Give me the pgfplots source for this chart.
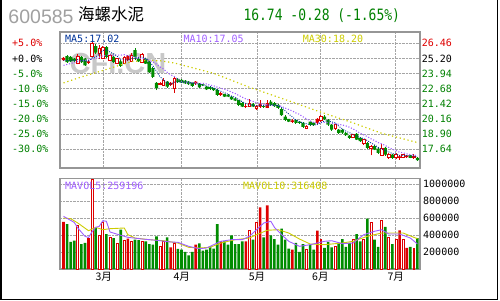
\documentclass[border=0pt]{standalone}
\usepackage{fontspec}
\usepackage{pgfplots}
\usepackage{pgfplotstable}
\pgfplotsset{compat=1.18}
\setmainfont{DejaVu Sans Mono}
\newfontfamily\mono{DejaVu Sans Mono}
\newfontfamily\cjk{Noto Sans CJK SC}
\newfontfamily\arial{Liberation Sans}
\definecolor{cred}{RGB}{221,0,0}
\definecolor{cgreen}{RGB}{0,140,0}
\definecolor{txtgreen}{RGB}{0,128,0}
\definecolor{gridc}{RGB}{165,165,165}
\definecolor{framec}{RGB}{150,150,150}
\definecolor{ma5c}{RGB}{0,51,153}
\definecolor{ma10c}{RGB}{160,95,255}
\definecolor{ma30c}{RGB}{204,204,0}
\definecolor{wmc}{RGB}{200,200,200}
\definecolor{codec}{RGB}{160,160,160}

% green (down) days: i open high low close volume
\pgfplotstableread{
i o h l c v
1 25.40 25.49 24.82 24.90 531000
2 25.32 25.40 24.90 24.96 319000
3 25.18 25.24 24.90 25.01 334000
5 25.32 25.40 24.82 24.90 295000
6 25.18 25.24 24.57 24.63 307000
9 26.23 26.40 25.57 25.68 484000
12 26.15 26.23 25.24 25.32 413000
14 25.32 25.40 24.82 24.90 366000
16 24.96 25.07 24.49 24.57 464000
20 25.90 26.07 25.11 25.32 346000
21 25.18 25.24 24.90 24.96 340000
23 25.18 25.24 24.74 24.76 327000
24 24.90 24.99 23.99 24.07 295000
25 24.40 24.49 23.57 23.66 287000
26 23.16 23.24 22.57 22.74 386000
29 23.26 23.36 22.78 22.85 374000
32 23.49 23.57 23.16 23.24 238000
33 23.41 23.49 23.12 23.18 228000
34 23.35 23.41 23.07 23.13 201000
35 23.26 23.32 22.99 23.07 162000
36 23.21 23.24 22.82 22.91 201000
38 23.13 23.16 22.74 22.80 303000
39 23.03 23.07 22.87 22.95 216000
40 22.85 22.91 22.57 22.63 228000
41 22.82 22.87 22.57 22.66 268000
42 22.74 22.78 22.49 22.57 240000
43 22.57 22.62 22.08 22.16 531000
45 22.24 22.28 21.95 22.02 327000
46 22.16 22.20 21.95 22.02 287000
47 22.02 22.08 21.74 21.80 398000
48 21.88 21.91 21.62 21.68 295000
49 21.74 21.78 21.24 21.33 295000
50 21.49 21.58 21.12 21.18 327000
53 21.41 21.45 21.12 21.18 346000
56 21.24 21.33 21.08 21.16 374000
58 21.60 21.74 21.24 21.33 398000
59 21.49 21.58 21.16 21.24 354000
60 21.33 21.41 20.99 21.08 287000
61 20.99 21.08 20.41 20.49 476000
62 20.35 20.45 19.99 20.08 346000
63 20.16 20.20 19.87 19.94 240000
65 20.08 20.12 19.75 19.83 307000
66 19.94 19.99 19.75 19.83 201000
67 19.83 19.87 19.41 19.50 295000
69 19.94 19.99 19.58 19.66 287000
70 19.85 19.91 19.58 19.66 228000
73 20.35 20.45 20.08 20.14 248000
74 20.08 20.16 19.58 19.69 319000
75 19.69 19.75 19.20 19.27 256000
77 19.27 19.33 18.91 19.00 307000
78 19.25 19.30 18.95 19.02 354000
79 19.00 19.04 18.75 18.81 260000
80 18.77 18.83 18.50 18.58 307000
82 18.91 19.00 18.37 18.44 413000
83 18.58 18.62 18.25 18.31 327000
85 18.16 18.25 17.67 17.75 594000
87 17.91 18.00 17.54 17.61 346000
88 17.69 17.75 17.25 17.33 260000
90 17.75 17.79 17.12 17.19 496000
92 17.19 17.25 16.83 16.92 295000
97 17.14 17.17 16.88 16.92 260000
99 16.92 16.96 16.67 16.74 366000
}\gtab

% red hollow (up) days
\pgfplotstableread{
i o h l c v
4 24.76 25.59 24.70 25.40 516000
8 25.40 26.57 25.32 26.43 1060000
10 25.65 26.32 25.18 26.07 398000
11 25.21 26.23 25.15 26.15 555000
13 25.05 25.57 24.99 25.46 374000
15 24.76 25.24 24.70 25.18 307000
17 24.76 25.40 24.70 25.32 334000
19 24.96 25.65 24.90 25.46 327000
22 24.90 25.65 24.86 25.51 327000
27 23.03 23.24 22.95 23.16 268000
28 22.99 23.55 22.91 23.41 323000
31 22.74 23.66 22.35 23.57 305000
52 21.24 21.83 21.16 21.45 457000
54 21.08 21.33 20.91 21.24 555000
68 19.41 19.66 19.29 19.58 228000
72 20.02 20.45 19.95 20.35 354000
76 19.41 19.83 19.25 19.69 268000
81 18.64 18.91 18.58 18.86 354000
84 18.16 18.50 18.00 18.44 354000
86 17.69 18.02 17.14 17.89 555000
89 17.14 18.08 17.08 17.69 575000
91 16.92 17.29 16.83 17.25 378000
93 16.92 17.33 16.83 17.25 354000
95 16.92 17.25 16.88 17.19 346000
98 16.92 17.21 16.83 17.08 240000
}\rtab

% red filled days
\pgfplotstableread{
i o h l c v
0 25.05 25.32 24.99 25.24 555000
7 24.82 25.07 24.74 24.96 366000
18 25.05 25.49 24.99 25.40 358000
30 22.99 23.24 22.91 23.16 254000
37 23.13 23.36 23.03 23.26 287000
44 22.16 22.41 22.08 22.32 327000
51 21.16 21.41 21.04 21.24 327000
55 21.16 21.74 21.08 21.41 728000
57 21.08 21.74 21.04 21.49 752000
64 19.91 20.12 19.83 20.04 228000
71 19.83 20.24 19.75 20.16 452000
94 16.92 17.17 16.75 17.04 457000
96 16.98 17.17 16.92 17.14 248000
}\ftab

% moving averages of price
\pgfplotstableread{
i m5 m10
0 25.05 24.62
1 25.02 24.70
2 25.00 24.78
3 25.02 24.86
4 25.10 24.94
5 25.03 25.00
6 24.98 25.04
7 24.98 25.08
8 25.26 25.14
9 25.32 25.21
10 25.55 25.29
11 25.86 25.42
12 25.93 25.46
13 25.74 25.50
14 25.58 25.45
15 25.40 25.48
16 25.09 25.47
17 25.09 25.51
18 25.07 25.41
19 25.19 25.38
20 25.21 25.31
21 25.29 25.19
22 25.33 25.21
23 25.20 25.14
24 24.92 25.06
25 24.59 24.90
26 24.15 24.72
27 23.68 24.50
28 23.41 24.31
29 23.16 24.04
30 23.06 23.83
31 23.23 23.69
32 23.25 23.46
33 23.20 23.30
34 23.26 23.21
35 23.24 23.15
36 23.11 23.17
37 23.11 23.18
38 23.03 23.12
39 23.00 23.13
40 22.91 23.07
41 22.86 22.98
42 22.72 22.92
43 22.59 22.81
44 22.47 22.73
45 22.35 22.63
46 22.22 22.54
47 22.06 22.39
48 21.97 22.28
49 21.77 22.12
50 21.60 21.97
51 21.45 21.83
52 21.38 21.72
53 21.28 21.62
54 21.26 21.51
55 21.30 21.45
56 21.29 21.37
57 21.30 21.34
58 21.33 21.30
59 21.33 21.29
60 21.26 21.28
61 21.13 21.21
62 20.84 21.07
63 20.57 20.95
64 20.33 20.83
65 20.08 20.67
66 19.94 20.54
67 19.83 20.34
68 19.76 20.16
69 19.68 20.00
70 19.65 19.86
71 19.71 19.83
72 19.88 19.86
73 19.99 19.88
74 20.00 19.84
75 19.92 19.78
76 19.83 19.77
77 19.56 19.72
78 19.33 19.66
79 19.15 19.58
80 19.02 19.47
81 18.85 19.34
82 18.74 19.15
83 18.60 18.97
84 18.53 18.84
85 18.36 18.69
86 18.17 18.51
87 18.00 18.37
88 17.80 18.20
89 17.65 18.09
90 17.54 17.95
91 17.41 17.79
92 17.28 17.64
93 17.26 17.53
94 17.13 17.39
95 17.13 17.34
96 17.11 17.26
97 17.11 17.19
98 17.07 17.17
99 17.01 17.07
}\matab

\pgfplotsset{
  pp/.style={at={(60pt,132pt)}, anchor=south west, scale only axis,
    width=360pt, height=136pt, xmin=-0.98, xmax=99.72, ymin=16.08, ymax=27.40},
  vp/.style={at={(60pt,31pt)}, anchor=south west, scale only axis,
    width=360pt, height=90.7pt, xmin=-0.98, xmax=99.72, ymin=0, ymax=1070800},
  monthticks/.style={xtick={11.24,33.06,54.13,71.85,92.94}},
}

\begin{document}
\begin{tikzpicture}[x=1pt,y=1pt]
\path[use as bounding box] (0,0) rectangle (500,300);

% header
\node[anchor=base west, inner sep=0pt, text=codec, font=\arial\fontsize{19.5}{20}\selectfont] at (8.3,276.7) {600585};
\node[anchor=base west, inner sep=0pt, font=\cjk\fontsize{16.5}{18}\selectfont] at (78,279) {海螺水泥};
\node[anchor=base west, inner sep=0pt, text=txtgreen, font=\mono\fontsize{13}{14}\selectfont] at (243.3,279.3) {\scalebox{1}[1.2]{16.74 -0.28 (-1.65\%)}};

% price panel: frame, grid, left labels
\begin{axis}[pp, monthticks, xticklabels={},
  axis line style={framec, line width=1.2pt},
  ytick={17.64,18.90,20.16,21.42,22.68,23.94,25.20,26.46},
  yticklabels={\textcolor{txtgreen}{-30.0\%},\textcolor{txtgreen}{-25.0\%},\textcolor{txtgreen}{-20.0\%},\textcolor{txtgreen}{-15.0\%},\textcolor{txtgreen}{-10.0\%},\textcolor{txtgreen}{-5.0\%},\textcolor{black}{+0.0\%},\textcolor{cred}{+5.0\%}},
  yticklabel style={font=\mono\fontsize{10}{12}\selectfont, anchor=west, inner sep=0pt, xshift=-48pt},
  grid=major, major grid style={gridc, densely dotted, line width=0.8pt},
  major tick length=0pt]
\end{axis}

% watermark
\node[text=wmc, inner sep=0pt, font=\arial\bfseries\fontsize{29}{30}\selectfont] at (118,236) {CFI.CN};

% wicks
\begin{axis}[pp, hide axis]
\addplot[draw=none, mark=none, error bars/.cd, y dir=plus, y explicit, error mark=none,
  error bar style={solid, draw=cgreen, line width=0.9pt}]
  table[x=i, y=l, y error expr=\thisrow{h}-\thisrow{l}] {\gtab};
\addplot[draw=none, mark=none, error bars/.cd, y dir=plus, y explicit, error mark=none,
  error bar style={solid, draw=cred, line width=0.9pt}]
  table[x=i, y=l, y error expr=\thisrow{h}-\thisrow{l}] {\rtab};
\addplot[draw=none, mark=none, error bars/.cd, y dir=plus, y explicit, error mark=none,
  error bar style={solid, draw=cred, line width=0.9pt}]
  table[x=i, y=l, y error expr=\thisrow{h}-\thisrow{l}] {\ftab};
\end{axis}

% green bodies
\begin{axis}[pp, hide axis, ybar stacked, bar width=3.2pt]
\addplot[draw=none, fill=none] table[x=i, y=c] {\gtab};
\addplot[draw=none, fill=cgreen] table[x=i, y expr=\thisrow{o}-\thisrow{c}] {\gtab};
\end{axis}
% red hollow bodies
\begin{axis}[pp, hide axis, ybar stacked, bar width=2.5pt]
\addplot[draw=none, fill=none] table[x=i, y=o] {\rtab};
\addplot[draw=cred, fill=white, line width=0.85pt] table[x=i, y expr=\thisrow{c}-\thisrow{o}] {\rtab};
\end{axis}
% red filled bodies
\begin{axis}[pp, hide axis, ybar stacked, bar width=3.2pt]
\addplot[draw=none, fill=none] table[x=i, y=o] {\ftab};
\addplot[draw=none, fill=cred] table[x=i, y expr=\thisrow{c}-\thisrow{o}] {\ftab};
\end{axis}

% moving averages
\begin{axis}[pp, hide axis]
\addplot[ma30c, line width=1.2pt, dash pattern=on 1.2pt off 2.8pt] coordinates {
(0,23.16) (5,23.66) (10,24.10) (15,24.57) (19,24.93) (23,25.03) (27,25.01) (31,24.82)
(35,24.51) (42,23.96) (52,22.80) (61,21.88) (71,20.83) (80,19.94) (89,18.97) (99,18.20)};
\addplot[ma10c, line width=1.1pt, dash pattern=on 1.1pt off 1.7pt] table[x=i, y=m10] {\matab};
\addplot[ma5c, line width=0.9pt, dash pattern=on 0.9pt off 1.4pt] table[x=i, y=m5] {\matab};
\end{axis}

% right price labels
\begin{axis}[pp, axis line style={draw=none}, xtick=\empty, major tick length=0pt,
  yticklabel pos=right,
  ytick={17.64,18.90,20.16,21.42,22.68,23.94,25.20,26.46},
  yticklabels={\textcolor{txtgreen}{17.64},\textcolor{txtgreen}{18.90},\textcolor{txtgreen}{20.16},\textcolor{txtgreen}{21.42},\textcolor{txtgreen}{22.68},\textcolor{txtgreen}{23.94},\textcolor{black}{25.20},\textcolor{cred}{26.46}},
  yticklabel style={font=\mono\fontsize{10}{12}\selectfont, anchor=west, inner sep=0pt, xshift=1.7pt}]
\end{axis}

% MA legend texts
\node[anchor=base west, inner sep=0pt, text=ma5c, font=\mono\fontsize{10}{12}\selectfont] at (65,257.4) {MA5:17.02};
\node[anchor=base west, inner sep=0pt, text=ma10c, font=\mono\fontsize{10}{12}\selectfont] at (183.3,257.4) {MA10:17.05};
\node[anchor=base west, inner sep=0pt, text=ma30c, font=\mono\fontsize{10}{12}\selectfont] at (302.7,257.4) {MA30:18.20};

% volume panel
\begin{axis}[vp, monthticks, xticklabels={3月,4月,5月,6月,7月},
  xticklabel style={font=\cjk\fontsize{10.5}{12}\selectfont},
  axis line style={framec, line width=1.2pt},
  ytick={200000,400000,600000,800000,1000000},
  yticklabels={200000,400000,600000,800000,1000000},
  scaled y ticks=false, yticklabel pos=right,
  yticklabel style={font=\mono\fontsize{10}{12}\selectfont, anchor=west, inner sep=0pt, xshift=3pt},
  grid=major, major grid style={gridc, densely dotted, line width=0.8pt},
  major tick length=0pt, ybar, bar shift=0pt]
\addplot[draw=none, fill=cgreen, bar width=2.6pt, bar shift=0pt] table[x=i, y=v] {\gtab};
\addplot[draw=cred, fill=white, line width=0.8pt, bar width=1.9pt, bar shift=0pt] table[x=i, y=v] {\rtab};
\addplot[draw=none, fill=cred, bar width=2.6pt, bar shift=0pt] table[x=i, y=v] {\ftab};
\end{axis}

\begin{axis}[vp, hide axis]
\addplot[ma30c, line width=0.9pt] coordinates {
(0,602000) (2,594000) (4,543000) (7,452000) (9,492000) (11,464000) (13,476000) (17,484000)
(18,405000) (20,366000) (24,346000) (28,334000) (32,307000) (35,256000) (38,248000) (41,256000)
(44,307000) (48,346000) (52,366000) (54,405000) (57,457000) (60,464000) (63,425000) (66,354000)
(69,295000) (73,287000) (78,307000) (81,327000) (85,386000) (89,425000) (93,425000) (95,425000)
(98,374000) (99,358000)};
\addplot[ma10c, line width=0.9pt] coordinates {
(0,622000) (3,550000) (4,484000) (6,386000) (7,372000) (8,440000) (9,492000) (10,504000)
(11,570000) (12,563000) (13,437000) (16,398000) (18,374000) (22,354000) (26,339000) (30,319000)
(32,315000) (35,268000) (38,240000) (40,248000) (42,287000) (44,327000) (47,346000) (50,346000)
(52,386000) (54,464000) (56,543000) (58,563000) (59,492000) (61,405000) (63,327000) (65,287000)
(66,268000) (69,287000) (73,327000) (75,334000) (78,299000) (81,307000) (84,405000) (87,445000)
(89,464000) (91,413000) (94,413000) (97,366000) (99,295000)};
\end{axis}

\node[anchor=base west, inner sep=0pt, text=ma10c, font=\mono\fontsize{10}{12}\selectfont] at (65,110.7) {MAVOL5:259196};
\node[anchor=base west, inner sep=0pt, text=ma30c, font=\mono\fontsize{10}{12}\selectfont] at (243,110.7) {MAVOL10:316408};

% outer border
\draw[black, line width=1.5pt] (0.75,300) -- (0.75,0.75) -- (497.7,0.75) -- (497.7,300);
\end{tikzpicture}
\end{document}
